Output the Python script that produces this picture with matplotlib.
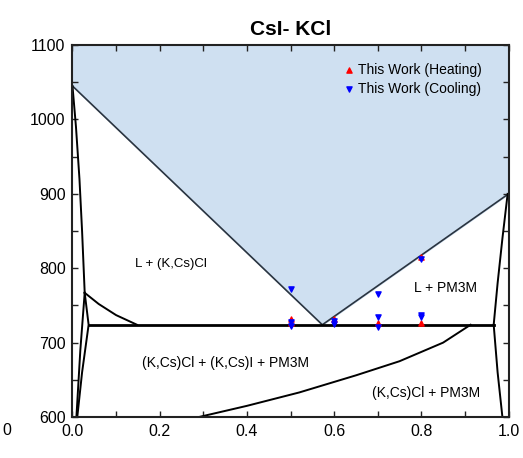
import matplotlib.pyplot as plt
import numpy as np
from matplotlib.ticker import MultipleLocator

plt.rcParams['font.family'] = ['Liberation Sans', 'DejaVu Sans']

# Liquidus (V shape with eutectic minimum)
liq_x = [0.0, 0.573, 1.0]
liq_T = [1045, 724, 900]

# Eutectic isotherm
eut_x = [0.037, 0.966]
eut_T = [724, 724]

# Left side boundaries (KCl-rich solid solution)
left_sol_x = [0.0, 0.008, 0.016, 0.022, 0.028]
left_sol_T = [1045, 990, 920, 850, 767]
left_low_x = [0.028, 0.018, 0.009]
left_low_T = [767, 690, 600]
left_inner_x = [0.028, 0.037, 0.022, 0.011]
left_inner_T = [767, 724, 660, 600]
left_curve_x = [0.028, 0.06, 0.10, 0.148]
left_curve_T = [767, 752, 737, 724]

# Right side boundaries (CsI-rich solid solution)
right_up_x = [0.998, 0.986, 0.975, 0.966]
right_up_T = [900, 840, 780, 724]
right_low_x = [0.966, 0.975, 0.986]
right_low_T = [724, 660, 600]

# Lower solvus curve
low_x = [0.29, 0.40, 0.52, 0.65, 0.75, 0.85, 0.913]
low_T = [600, 615, 633, 656, 675, 700, 724]

# Measured thermal arrests
heat_x = [0.5, 0.5, 0.6, 0.7, 0.8, 0.8]
heat_T = [732, 727, 732, 727, 815, 727]
cool_x = [0.5, 0.5, 0.5, 0.6, 0.6, 0.7, 0.7, 0.7, 0.8, 0.8, 0.8]
cool_T = [772, 728, 723, 729, 725, 766, 735, 721, 812, 737, 734]

fig = plt.figure(figsize=(5.23, 4.58), dpi=100)
ax = fig.add_axes([0.1386, 0.0895, 0.8337, 0.8120])

ax.fill_between(liq_x, liq_T, 1100, color='#cfe0f1', zorder=0)
ax.plot(liq_x, liq_T, color='#2a3440', lw=1.2, zorder=2)
ax.plot(eut_x, eut_T, color='black', lw=2.0, zorder=2)
for xs, ts in [(left_sol_x, left_sol_T), (left_low_x, left_low_T),
               (left_inner_x, left_inner_T), (left_curve_x, left_curve_T),
               (right_up_x, right_up_T), (right_low_x, right_low_T),
               (low_x, low_T)]:
    ax.plot(xs, ts, color='black', lw=1.4, zorder=2)

ax.scatter(heat_x, heat_T, marker='^', s=14, color='red', zorder=3,
           label='This Work (Heating)')
ax.scatter(cool_x, cool_T, marker='v', s=14, color='blue', zorder=4,
           label='This Work (Cooling)')

ax.text(0.225, 806, 'L + (K,Cs)Cl', fontsize=9.5, ha='center', va='center')
ax.text(0.855, 774, 'L + PM3M', fontsize=10, ha='center', va='center')
ax.text(0.35, 673, '(K,Cs)Cl + (K,Cs)I + PM3M', fontsize=10, ha='center', va='center')
ax.text(0.81, 632, '(K,Cs)Cl + PM3M', fontsize=10, ha='center', va='center')

ax.set_xlim(0, 1.0)
ax.set_ylim(600, 1100)
ax.xaxis.set_major_locator(MultipleLocator(0.2))
ax.xaxis.set_minor_locator(MultipleLocator(0.1))
ax.yaxis.set_major_locator(MultipleLocator(100))
ax.yaxis.set_minor_locator(MultipleLocator(50))
ax.xaxis.set_major_formatter(plt.FormatStrFormatter('%.1f'))
ax.tick_params(which='both', direction='in', top=True, right=True,
               labelsize=11.5, length=4, width=1, colors='#222222',
               labelcolor='black')
ax.tick_params(which='major', pad=5)
for sp in ax.spines.values():
    sp.set_linewidth(1.5)
    sp.set_color('#222222')

ax.set_title('CsI- KCl', fontsize=15, fontweight='bold', pad=7)

ax.legend(loc='upper right', frameon=False, fontsize=10, handlelength=0.4,
          handletextpad=0.4, labelspacing=0.35, borderaxespad=0.6,
          bbox_to_anchor=(0.97, 0.99))

fig.text(0.005, 0.05, '0', fontsize=11.5)

fig.savefig('out.png', dpi=100)
